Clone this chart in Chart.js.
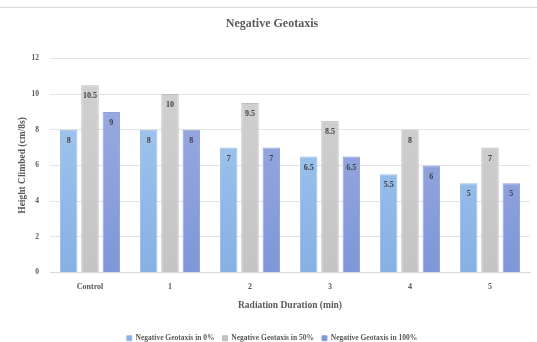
<!DOCTYPE html>
<html>
<head>
<meta charset="utf-8">
<script src="https://cdn.jsdelivr.net/npm/chart.js@4/dist/chart.umd.min.js"></script>
<style>
  html, body { margin: 0; padding: 0; background: #fff; }
  #wrap { position: relative; width: 537px; height: 342px; }
  #wrap:before { content: ""; position: absolute; left: 0; right: 0; top: 7px; border-top: 1px solid #d9d9d9; }
</style>
</head>
<body>
<div id="wrap"><canvas id="geotaxisChart" width="537" height="342"></canvas></div>
<script>
// duracion de radiacion y altura alcanzada por grupo
const categorias = ['Control', '1', '2', '3', '4', '5'];
const serie0 = [8, 8, 7, 6.5, 5.5, 5];
const serie50 = [10.5, 10, 9.5, 8.5, 8, 7];
const serie100 = [9, 8, 7, 6.5, 6, 5];
const yTicks = [0, 2, 4, 6, 8, 10, 12];

const serif = "'Liberation Serif', 'DejaVu Serif', serif";

function degradado(top, bottom) {
    return function (context) {
        const area = context.chart.chartArea;
        if (!area) return top;
        const g = context.chart.ctx.createLinearGradient(0, area.top, 0, area.bottom);
        g.addColorStop(0, top);
        g.addColorStop(1, bottom);
        return g;
    };
}

// etiqueta del valor dentro de la barra, cerca del borde superior
const etiquetasBarras = {
    id: 'etiquetasBarras',
    afterDatasetsDraw(chart) {
        const ctx = chart.ctx;
        ctx.save();
        ctx.font = 'bold 8px ' + serif;
        ctx.fillStyle = '#404040';
        ctx.textAlign = 'center';
        ctx.textBaseline = 'middle';
        chart.data.datasets.forEach((ds, i) => {
            chart.getDatasetMeta(i).data.forEach((bar, j) => {
                ctx.fillText(String(ds.data[j]), bar.x, bar.y + 11);
            });
        });
        ctx.restore();
    }
};

const ctx = document.getElementById('geotaxisChart').getContext('2d');
new Chart(ctx, {
    type: 'bar',
    data: {
        labels: categorias,
        datasets: [
            {
                label: 'Negative Geotaxis in 0%',
                data: serie0,
                backgroundColor: degradado('#a9cbef', '#86b0e4'),
                borderColor: '#9bbfe8',
                borderWidth: 1
            },
            {
                label: 'Negative Geotaxis in 50%',
                data: serie50,
                backgroundColor: degradado('#d2d2d2', '#c4c4c4'),
                borderColor: '#bdbdbd',
                borderWidth: 1
            },
            {
                label: 'Negative Geotaxis in 100%',
                data: serie100,
                backgroundColor: degradado('#a0aee2', '#7f96d8'),
                borderColor: '#8fa2dc',
                borderWidth: 1
            }
        ]
    },
    options: {
        responsive: false,
        animation: false,
        layout: { padding: { left: 14, right: 7, top: 0, bottom: -10 } },
        categoryPercentage: 0.8,
        barPercentage: 0.82,
        plugins: {
            title: {
                display: true,
                text: 'Negative Geotaxis',
                color: '#595959',
                font: { family: serif, size: 12, weight: 'bold' },
                padding: { top: 17, bottom: 27 }
            },
            legend: {
                position: 'bottom',
                labels: {
                    boxWidth: 5,
                    boxHeight: 5,
                    padding: 8,
                    color: '#595959',
                    font: { family: serif, size: 7.5, weight: 'bold' }
                }
            },
            tooltip: { enabled: false }
        },
        scales: {
            x: {
                grid: { display: false },
                border: { color: '#d9d9d9' },
                ticks: { color: '#595959', font: { family: serif, size: 8, weight: 'bold' }, padding: 2 },
                title: {
                    display: true,
                    text: 'Radiation Duration (min)',
                    color: '#595959',
                    font: { family: serif, size: 9.5, weight: 'bold' },
                    padding: { top: 6, bottom: 15 }
                }
            },
            y: {
                min: 0,
                max: 12,
                afterBuildTicks: (axis) => { axis.ticks = yTicks.map(v => ({ value: v })); },
                afterFit: (axis) => { axis.width = 36; },
                grid: { color: '#e3e3e3', drawTicks: false },
                border: { display: false },
                ticks: { color: '#595959', font: { family: serif, size: 7.5, weight: 'bold' }, padding: 11 },
                title: {
                    display: true,
                    text: 'Height Climbed (cm/8s)',
                    color: '#595959',
                    font: { family: serif, size: 9.5, weight: 'bold' },
                    padding: { top: 3, bottom: 0 }
                }
            }
        }
    },
    plugins: [etiquetasBarras]
});
</script>
</body>
</html>
